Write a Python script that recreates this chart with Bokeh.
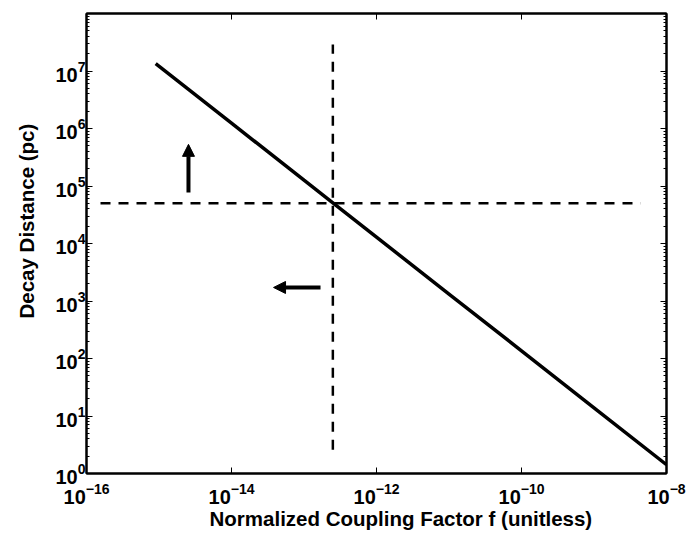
from bokeh.plotting import figure
from bokeh.models import LogAxis, FixedTicker, Arrow, NormalHead, Range1d, Title
from bokeh.embed import file_html
from bokeh.resources import INLINE

# ---- data ----
coupling = [9e-16, 1e-14, 1e-13, 2.5e-13, 1e-12, 1e-11, 1e-10, 1e-9, 1e-8]
distance = [1.34e7, 1.24e6, 1.26e5, 5.1e4, 1.29e4, 1.32e3, 136, 13.9, 1.42]

threshold_distance = 5e4
threshold_coupling = 2.5e-13
hline_x = [1.56e-16, 4.4e-9]
vline_y = [2.6, 2.9e7]

arrow_up_x = 2.55e-15
arrow_up_y = [7.7e4, 5.3e5]
arrow_left_y = 1.72e3
arrow_left_x = [1.69e-13, 3.8e-14]

x_ticks = [1e-16, 1e-14, 1e-12, 1e-10, 1e-8]
y_ticks = [1e0, 1e1, 1e2, 1e3, 1e4, 1e5, 1e6, 1e7]
y_minor = [k * 10.0 ** n for n in range(0, 8) for k in range(2, 10)]

x_title = "Normalized Coupling Factor f (unitless)"
y_title = "Decay Distance (pc)"

FONT = "Liberation Sans"

p = figure(width=688, height=534, x_axis_type="log", y_axis_type="log",
           x_range=Range1d(1e-16, 1e-8), y_range=Range1d(1, 1e8),
           output_backend="svg", toolbar_location=None,
           min_border_left=86, min_border_right=22, min_border_top=13, min_border_bottom=61)
p.xgrid.visible = False
p.ygrid.visible = False
p.outline_line_color = "black"
p.outline_line_width = 2
p.background_fill_color = "white"
p.border_fill_color = "white"

def style_axis(ax, ticks, minor, show_labels):
    ax.ticker = FixedTicker(ticks=ticks, minor_ticks=minor)
    ax.major_tick_in = 6
    ax.major_tick_out = 0
    ax.minor_tick_in = 3
    ax.minor_tick_out = 0
    ax.major_tick_line_color = "black"
    ax.minor_tick_line_color = "black" if minor else None
    ax.axis_line_color = "black"
    ax.axis_line_width = 2
    ax.major_label_text_font = FONT
    ax.major_label_text_font_style = "bold"
    if show_labels:
        ax.major_label_text_font_size = "20px"
        ax.major_label_text_color = "black"
    else:
        ax.major_label_text_font_size = "1px"
        ax.major_label_text_color = None
        ax.major_label_standoff = 0

style_axis(p.xaxis[0], x_ticks, [], True)
p.xaxis[0].major_label_standoff = 9
style_axis(p.yaxis[0], y_ticks, y_minor, True)
p.yaxis[0].major_label_standoff = 1

top = LogAxis()
style_axis(top, x_ticks, [], False)
p.add_layout(top, "above")
right = LogAxis()
style_axis(right, y_ticks, y_minor, False)
p.add_layout(right, "right")

# axis titles as Title annotations (offset lets them sit where the reference has them)
p.add_layout(Title(text=x_title, align="left", offset=123, standoff=-3,
                   text_font=FONT, text_font_style="bold", text_font_size="20.5px",
                   text_color="black"), "below")
p.add_layout(Title(text=y_title, align="left", offset=155, standoff=26, vertical_align="top",
                   text_font=FONT, text_font_style="bold", text_font_size="20.5px",
                   text_color="black"), "left")

# curve and threshold lines
p.line(coupling, distance, line_width=3.5, line_color="black")
p.line(hline_x, [threshold_distance, threshold_distance], line_width=2.5,
       line_color="black", line_dash="10 8")
p.line([threshold_coupling, threshold_coupling], vline_y, line_width=2.5,
       line_color="black", line_dash="10 8")

# arrows
p.add_layout(Arrow(end=NormalHead(size=12, fill_color="black", line_color="black", line_width=1),
                   x_start=arrow_up_x, y_start=arrow_up_y[0],
                   x_end=arrow_up_x, y_end=arrow_up_y[1],
                   line_width=4, line_color="black"))
p.add_layout(Arrow(end=NormalHead(size=12, fill_color="black", line_color="black", line_width=1),
                   x_start=arrow_left_x[0], y_start=arrow_left_y,
                   x_end=arrow_left_x[1], y_end=arrow_left_y,
                   line_width=4, line_color="black"))

open("out.html", "w").write(file_html(p, INLINE))
